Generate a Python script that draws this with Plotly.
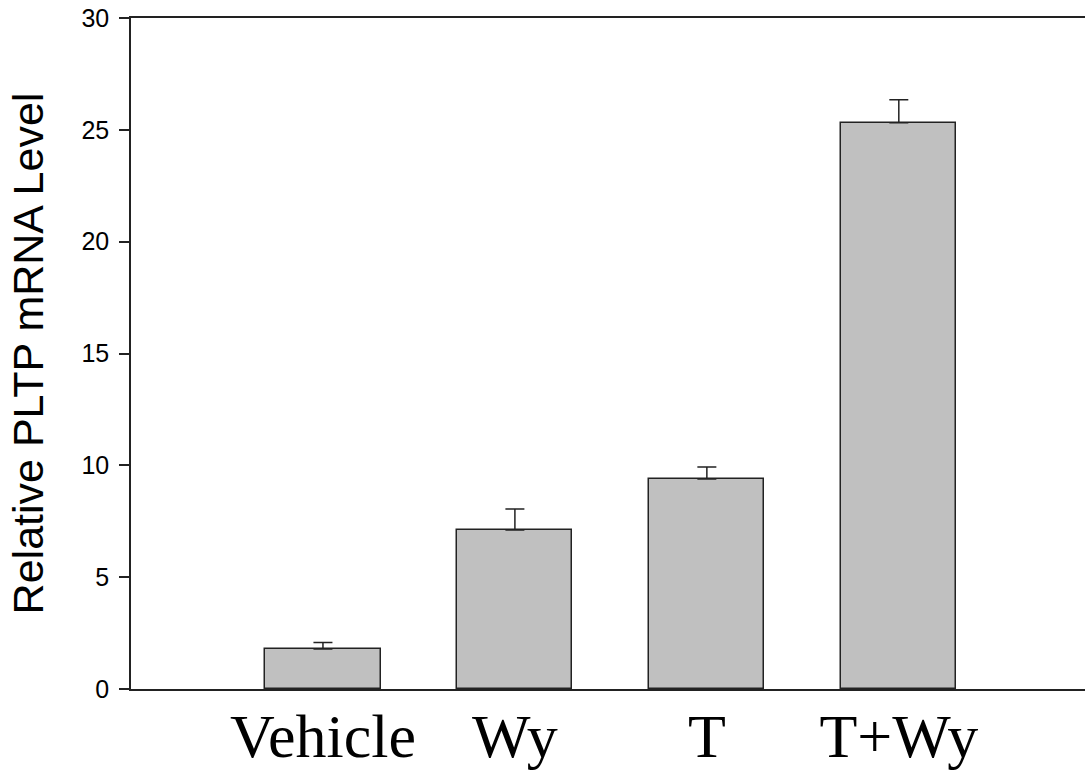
import plotly.graph_objects as go

categories = ["Vehicle", "Wy", "T", "T+Wy"]
values = [1.79, 7.11, 9.39, 25.32]
errors = [0.29, 0.94, 0.53, 1.02]
y_ticks = [0, 5, 10, 15, 20, 25, 30]

fig = go.Figure()
fig.add_trace(go.Bar(
    x=list(range(len(categories))),
    y=values,
    width=0.6,
    marker=dict(color="#c0c0c0", line=dict(color="#222222", width=1.5)),
    error_y=dict(type="data", symmetric=False, array=errors,
                 arrayminus=[0] * len(errors),
                 color="#222222", thickness=1.5, width=9.5),
))

fig.update_layout(
    width=1085, height=776,
    margin=dict(l=131, r=0, t=18, b=87),
    plot_bgcolor="white", paper_bgcolor="white",
    showlegend=False,
    bargap=0,
)
fig.update_xaxes(
    range=[-1, 3.97], automargin=False,
    tickmode="array", tickvals=list(range(len(categories))), ticktext=categories,
    showline=True, linecolor="#222222", linewidth=1.5, mirror=True,
    showgrid=False, zeroline=False, ticks="",
    ticklabelstandoff=-8,
    tickfont=dict(family="Liberation Serif", size=62, color="black"),
)
fig.update_yaxes(
    range=[0, 30], automargin=False,
    tickmode="array", tickvals=y_ticks,
    showline=True, linecolor="#222222", linewidth=1.5,
    showgrid=False, zeroline=False,
    ticks="outside", ticklen=10, tickcolor="#222222", tickwidth=1.5,
    ticklabelstandoff=5,
    tickfont=dict(family="Liberation Sans", size=25, color="black"),
    title=dict(text="Relative PLTP mRNA Level", standoff=24,
               font=dict(family="Liberation Sans", size=43, color="black")),
)

fig.write_html(
    "out.html",
    config={"displayModeBar": False},
    post_script="document.body.style.margin='0';document.body.style.padding='0';",
)
